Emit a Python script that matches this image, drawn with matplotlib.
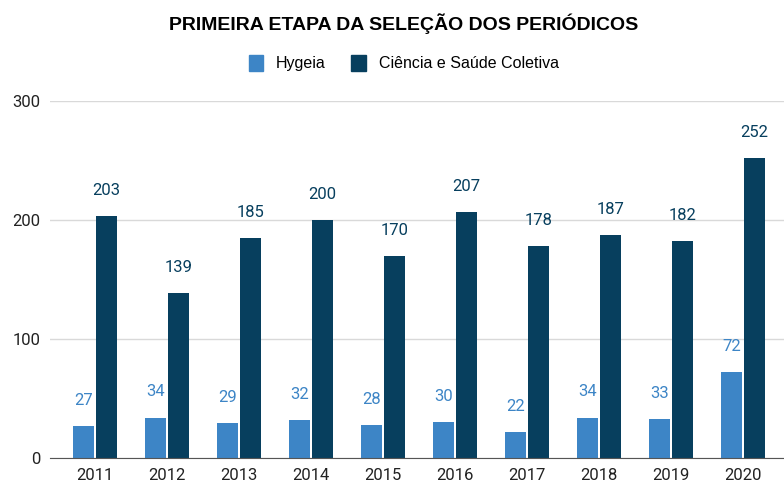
import numpy as np
import matplotlib.pyplot as plt
from matplotlib.patches import Patch

# dados
anos = ['2011', '2012', '2013', '2014', '2015', '2016', '2017', '2018', '2019', '2020']
hygeia = [27, 34, 29, 32, 28, 30, 22, 34, 33, 72]
csc = [203, 139, 185, 200, 170, 207, 178, 187, 182, 252]
series_nomes = ['Hygeia', 'Ciência e Saúde Coletiva']
yticks = [0, 100, 200, 300]

cor_h = '#3d85c6'
cor_c = '#073f5e'

fig = plt.figure(figsize=(7.84, 4.84), dpi=100)
ax = fig.add_axes([50/784, 26/484, 738/784, 357/484])

x = np.arange(len(anos))
w = 0.29
off = 0.16
b1 = ax.bar(x - off, hygeia, w, color=cor_h, zorder=3)
b2 = ax.bar(x + off, csc, w, color=cor_c, zorder=3)

for rect, v in zip(b1, hygeia):
    ax.annotate(str(v), (rect.get_x() + rect.get_width()/2, v), xytext=(0, 13),
                textcoords='offset points', ha='center', va='bottom',
                color=cor_h, fontsize=12, family='Roboto')
for rect, v in zip(b2, csc):
    ax.annotate(str(v), (rect.get_x() + rect.get_width()/2, v), xytext=(0, 13),
                textcoords='offset points', ha='center', va='bottom',
                color=cor_c, fontsize=12, family='Roboto')

ax.set_xlim(-0.625, len(anos) - 0.375)
ax.set_ylim(0, 300)
ax.set_yticks(yticks)
ax.set_xticks(x)
ax.set_xticklabels(anos)
ax.tick_params(length=0, labelsize=12, pad=7, colors='#222222')
for lab in ax.get_xticklabels() + ax.get_yticklabels():
    lab.set_family('Roboto')
ax.grid(axis='y', color='#d9d9d9', linewidth=1, zorder=0)
for s in ['top', 'right', 'left']:
    ax.spines[s].set_visible(False)
ax.spines['bottom'].set_color('#555555')
ax.spines['bottom'].set_zorder(4)

fig.text(404/784, 1 - 24/484, 'PRIMEIRA ETAPA DA SELEÇÃO DOS PERIÓDICOS', ha='center', va='center',
         fontsize=14, fontweight='bold', family='Liberation Sans')

handles = [Patch(color=cor_h), Patch(color=cor_c)]
fig.legend(handles, series_nomes, loc='center', bbox_to_anchor=(0.515, 1 - 63/484), ncol=2,
           frameon=False, prop={'family': 'Liberation Sans', 'size': 11.5},
           handlelength=0.9, handleheight=1.2, columnspacing=1.6, handletextpad=0.8)

fig.savefig('out.png', dpi=100)
